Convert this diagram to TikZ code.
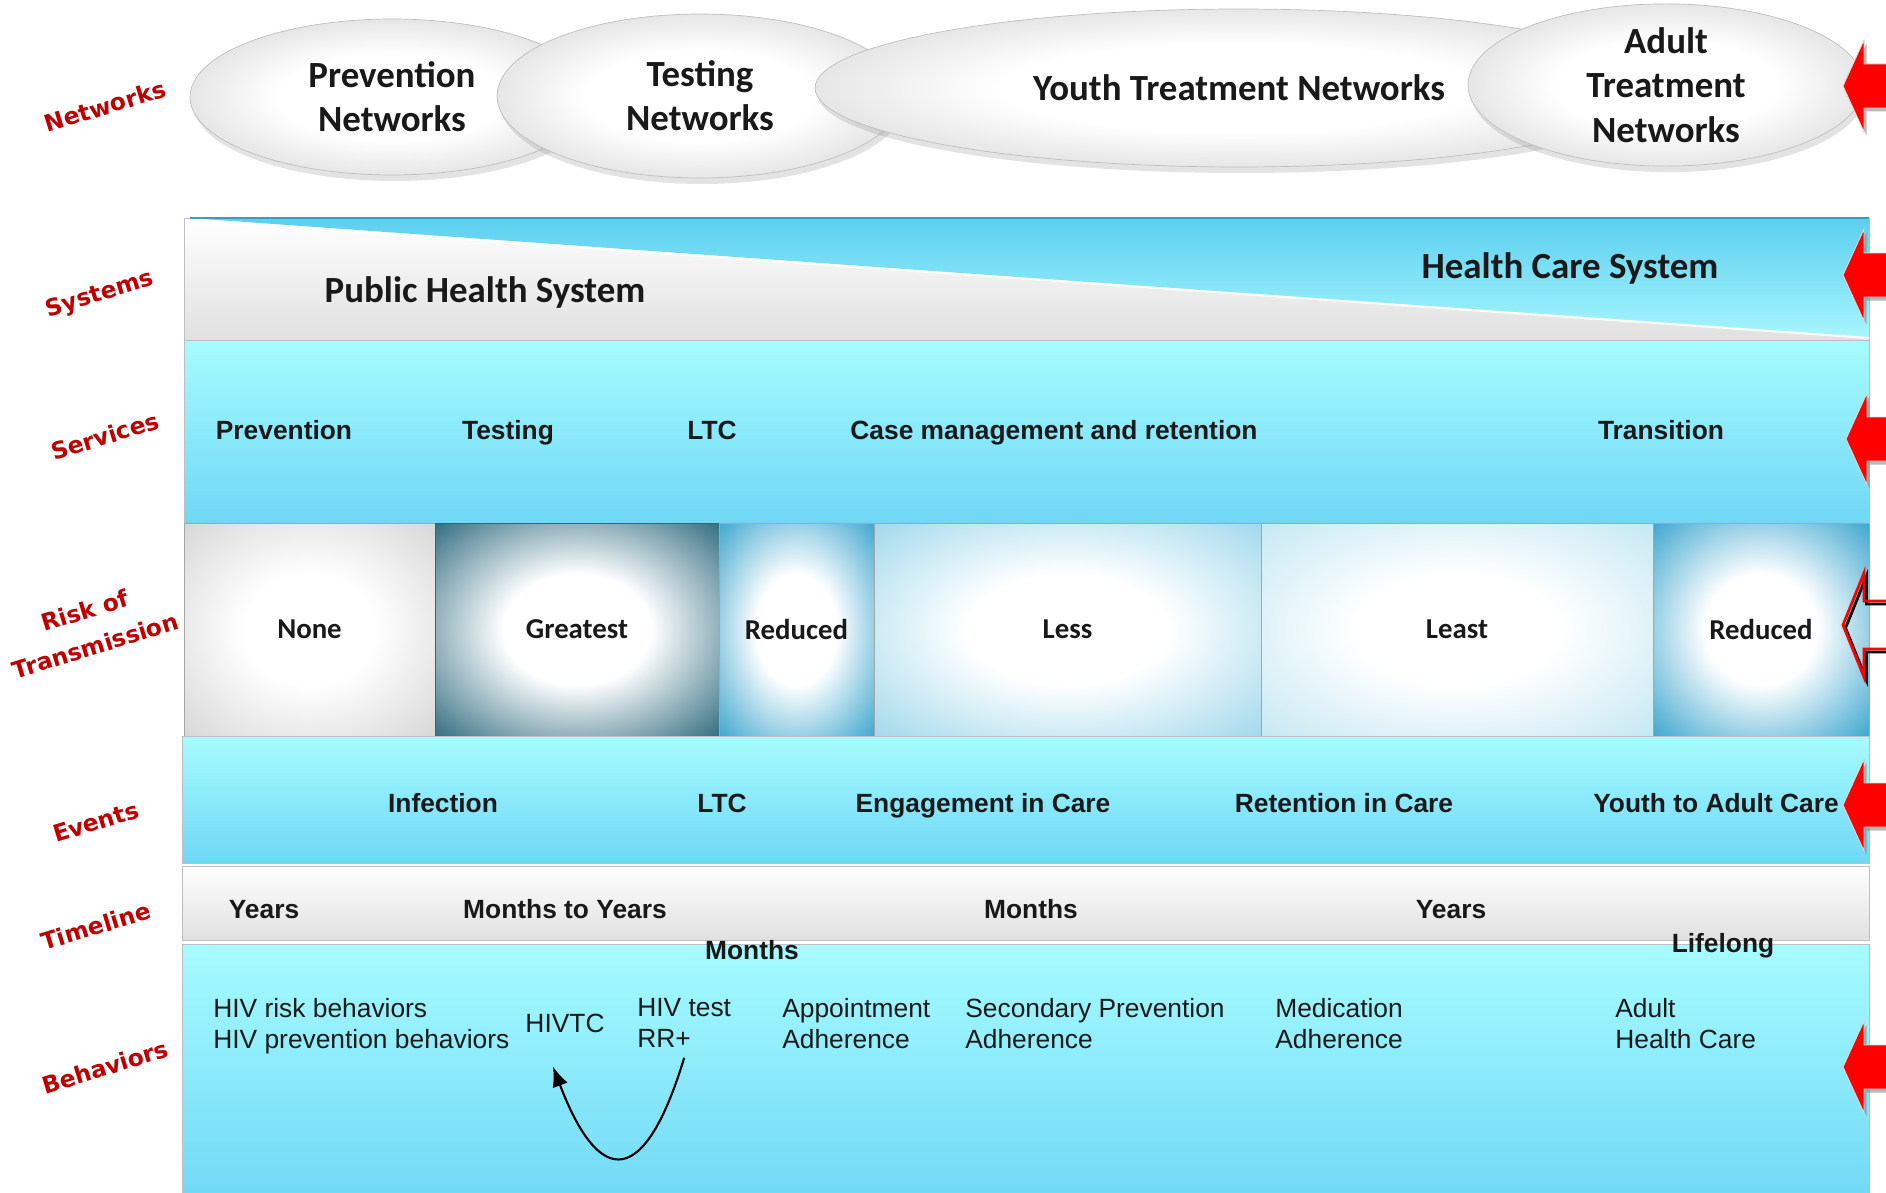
\documentclass[tikz,border=0pt]{standalone}
\usepackage{fontspec}
\setmainfont{Carlito}
\newfontfamily\sidefont{DejaVu Sans}
\newfontfamily\arialfont{Liberation Sans}
\usetikzlibrary{shapes.geometric,shadows,arrows.meta}

\definecolor{labelred}{HTML}{C00000}
\definecolor{arrowred}{HTML}{FF0000}
\definecolor{aquatop}{HTML}{A6FCFF}
\definecolor{aquabot}{HTML}{6FD7F5}
\definecolor{syscyantop}{HTML}{5CCFEF}
\definecolor{syscyanbot}{HTML}{A8F6FD}
\definecolor{tealedge}{HTML}{3C9DB8}
\definecolor{greynone}{HTML}{D6D6D6}
\definecolor{tealdark}{HTML}{2E6A7D}
\definecolor{bluemid}{HTML}{39A4CD}
\definecolor{blueless}{HTML}{9FD8EA}
\definecolor{blueleast}{HTML}{C4E7F1}
\definecolor{netrim}{HTML}{969696}
\definecolor{netmid}{HTML}{C9C9C9}
\colorlet{celledge}{gray}

\pgfdeclareradialshading[celledge]{cellglow}{\pgfpointorigin}{color(0bp)=(white); color(13bp)=(white); color(36bp)=(celledge); color(50bp)=(celledge)}
\pgfdeclareradialshading{netglow}{\pgfpointorigin}{color(0bp)=(white); color(14bp)=(white); color(38bp)=(netmid); color(50bp)=(netrim)}

\begin{document}
\begin{tikzpicture}[x=0.02cm, y=-0.02cm,
    netellipse/.style={ellipse, draw=black!25, shading=netglow, shade,
        drop shadow={opacity=0.22, shadow xshift=0.05cm, shadow yshift=-0.12cm},
        align=center, inner sep=0pt, text=black!90, font=\bfseries\fontsize{21}{25.2}\selectfont},
    bigtext/.style={inner sep=0pt, anchor=base, text=black!90, font=\bfseries\fontsize{21}{25.2}\selectfont},
    bandtext/.style={inner sep=0pt, anchor=base, text=black!90, font=\arialfont\bfseries\fontsize{15}{18}\selectfont},
    behtext/.style={inner sep=0pt, anchor=north west, align=left, text=black!90, font=\arialfont\fontsize{15}{17.6}\selectfont},
    sidelabel/.style={inner sep=0pt, rotate=17, align=center, text=labelred, font=\sidefont\bfseries\fontsize{13.3}{21}\selectfont},
    aquaband/.style={top color=aquatop, bottom color=aquabot, draw=black!25},
    greyband/.style={top color=white, bottom color=black!12, draw=black!25},
    riskcell/.style={rectangle, draw=black!35, /utils/exec={\colorlet{celledge}{#1}}, shading=cellglow, shade,
        minimum height=4.26cm, inner sep=0pt, text=black!90, font=\bfseries\fontsize{16.4}{20}\selectfont},
    redarrow/.style={fill=arrowred, draw=black!15, line width=0.5pt, drop shadow={opacity=0.55, shadow xshift=0.05cm, shadow yshift=-0.07cm}},
    openarrow/.style={draw=arrowred, line width=1.6pt},
    loopline/.style={line width=1.2pt, -{Latex[length=0.4cm, width=0.32cm]}}
]
    \useasboundingbox (0,0) rectangle (1886,1193);
    \clip (0,0) rectangle (1886,1193);

    % networks
    \node[netellipse, minimum width=8.08cm, minimum height=3.12cm] (prevnet) at (392,97) {Prevention\\Networks};
    \node[netellipse, minimum width=8.12cm, minimum height=3.28cm] (testnet) at (700,96) {Testing\\Networks};
    \node[netellipse, minimum width=16.96cm, minimum height=3.16cm] (youthnet) at (1239,88) {Youth Treatment Networks};
    \node[netellipse, minimum width=7.92cm, minimum height=3.24cm] (adultnet) at (1666,85) {Adult\\Treatment\\Networks};

    % systems
    \shade[greyband] (184,218) rectangle (1869,340);
    \shade[top color=syscyantop, bottom color=syscyanbot] (190,218) -- (1869,218) -- (1869,338) -- cycle;
    \draw[white, line width=1.2pt] (190,220) -- (1869,338);
    \draw[tealedge, line width=1pt] (190,218) -- (1869,218);
    \node[bigtext] (pubhealth) at (485,302) {Public Health System};
    \node[bigtext] (healthcare) at (1570,278) {Health Care System};

    % services
    \shade[aquaband] (184,340) rectangle (1869,523);
    \node[bandtext] (svcprev) at (284,439) {Prevention};
    \node[bandtext] (svctest) at (508,439) {Testing};
    \node[bandtext] (svcltc) at (712,439) {LTC};
    \node[bandtext] (svccase) at (1054,439) {Case management and retention};
    \node[bandtext] (svctrans) at (1661,439) {Transition};

    % risk of transmission
    \node[riskcell=greynone, minimum width=5.02cm] (none) at (309.5,629.5) {None};
    \node[riskcell=tealdark, minimum width=5.68cm, draw=tealdark] (greatest) at (577,629.5) {Greatest};
    \node[riskcell=bluemid, minimum width=3.10cm] (reduced) at (796.5,629.5) {Reduced};
    \node[riskcell=blueless, minimum width=7.74cm] (less) at (1067.5,629.5) {Less};
    \node[riskcell=blueleast, minimum width=7.84cm] (least) at (1457,629.5) {Least};
    \node[riskcell=bluemid, minimum width=4.32cm] (reducedb) at (1761,629.5) {Reduced};

    % events
    \shade[aquaband] (182,736) rectangle (1869,863);
    \node[bandtext] (evinf) at (443,812) {Infection};
    \node[bandtext] (evltc) at (722,812) {LTC};
    \node[bandtext] (evengage) at (983,812) {Engagement in Care};
    \node[bandtext] (evretain) at (1344,812) {Retention in Care};
    \node[bandtext] (evadult) at (1716,812) {Youth to Adult Care};

    % timeline
    \shade[greyband] (182,866) rectangle (1869,940);
    \shade[aquaband] (182,944) rectangle (1869,1210);
    \node[bandtext] (tlyears) at (264,918) {Years};
    \node[bandtext] (tlmy) at (565,918) {Months to Years};
    \node[bandtext] (tlmonths) at (1031,918) {Months};
    \node[bandtext] (tlyearsb) at (1451,918) {Years};
    \node[bandtext] (tlmonthsb) at (752,959) {Months};
    \node[bandtext] (tllife) at (1723,952) {Lifelong};

    % behaviors
    \node[behtext] (riskbeh) at (213,998) {HIV risk behaviors\\HIV prevention behaviors};
    \node[behtext, anchor=base] (hivtc) at (565,1032) {HIVTC};
    \node[behtext] (hivtest) at (637,998) {HIV test\\RR+};
    \node[behtext] (appoint) at (782,998) {Appointment\\Adherence};
    \node[behtext] (secprev) at (965,998) {Secondary Prevention\\Adherence};
    \node[behtext] (medadh) at (1275,998) {Medication\\Adherence};
    \node[behtext] (adultcare) at (1615,998) {Adult\\Health Care};
    \draw[loopline] ([yshift=-0.2cm]hivtest.south) .. controls (645,1187) and (600,1190) .. ([xshift=-0.24cm,yshift=-0.68cm]hivtc.south);

    % side labels
    \node[sidelabel] (netlbl) at (105,106) {Networks};
    \node[sidelabel] (syslbl) at (100,295) {Systems};
    \node[sidelabel] (svclbl) at (105,436) {Services};
    \node[sidelabel] (risklbl) at (90,628) {Risk of\\Transmission};
    \node[sidelabel] (evlbl) at (96,822) {Events};
    \node[sidelabel] (tllbl) at (96,926) {Timeline};
    \node[sidelabel] (behlbl) at (105,1067) {Behaviors};

    % red arrows
    \draw[redarrow] (1843,86) -- ++(21,-46) -- ++(0,24) -- ++(40,0) -- ++(0,44) -- ++(-40,0) -- ++(0,24) -- cycle;
    \draw[redarrow] (1843,275) -- ++(21,-46) -- ++(0,24) -- ++(40,0) -- ++(0,44) -- ++(-40,0) -- ++(0,24) -- cycle;
    \draw[redarrow] (1846,439) -- ++(21,-46) -- ++(0,24) -- ++(40,0) -- ++(0,44) -- ++(-40,0) -- ++(0,24) -- cycle;
    \draw[redarrow] (1843,805) -- ++(21,-46) -- ++(0,24) -- ++(40,0) -- ++(0,44) -- ++(-40,0) -- ++(0,24) -- cycle;
    \draw[redarrow] (1843,1067) -- ++(21,-46) -- ++(0,24) -- ++(40,0) -- ++(0,44) -- ++(-40,0) -- ++(0,24) -- cycle;
    \draw[black, line width=1.6pt, xshift=0.05cm, yshift=-0.06cm] (1843,625) -- ++(21,-52) -- ++(0,28) -- ++(40,0) -- ++(0,48) -- ++(-40,0) -- ++(0,28) -- cycle;
    \draw[openarrow] (1843,625) -- ++(21,-52) -- ++(0,28) -- ++(40,0) -- ++(0,48) -- ++(-40,0) -- ++(0,28) -- cycle;

\end{tikzpicture}
\end{document}
